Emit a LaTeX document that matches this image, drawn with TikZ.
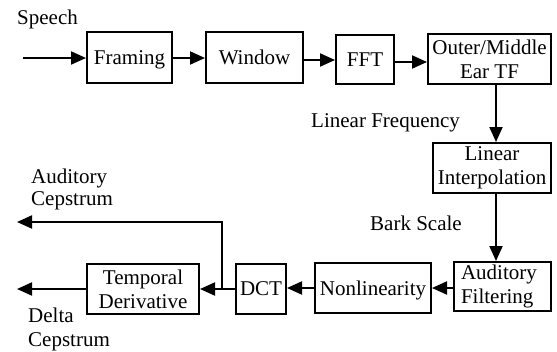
\documentclass[tikz,border=0pt]{standalone}
\usepackage{fontspec}
\setmainfont{Liberation Serif}
\usetikzlibrary{arrows.meta}
\begin{document}
\begin{tikzpicture}[x=1pt,y=-1pt,
  font=\fontsize{21}{24}\selectfont,
  blk/.style={draw,line width=2pt,inner sep=0pt,align=center},
  one/.style={text depth=0pt},
  lbl/.style={inner sep=0pt,anchor=base west},
  arr/.style={line width=2pt,-{Triangle[length=15pt,width=13pt]}}]
\useasboundingbox (0,0) rectangle (557,351);
% blocks
\node[blk,one,minimum width=85pt,minimum height=51pt] (framing) at (129.5,57.5) {Framing};
\node[blk,one,minimum width=97pt,minimum height=51pt] (window) at (254.5,57.5) {Window};
\node[blk,minimum width=58pt,minimum height=49pt] (fft) at (365,59.5) {\raisebox{-7pt}{FFT}};
\node[blk,minimum width=123pt,minimum height=50pt] (outer) at (489.5,59) {Outer/Middle\\Ear TF};
\node[blk,minimum width=118pt,minimum height=50pt] (interp) at (492,168) {Linear\\Interpolation};
\node[blk,minimum height=49pt,align=left,inner xsep=7pt,text width=83pt] (audf) at (502.5,286.5) {Auditory\\Filtering};
\node[blk,one,minimum width=116pt,minimum height=50pt] (nonlin) at (373,288) {Nonlinearity};
\node[blk,one,minimum width=50pt,minimum height=50pt] (dct) at (261,289) {DCT};
\node[blk,minimum width=112pt,minimum height=50pt] (temp) at (143,289) {Temporal\\Derivative};
% labels
\node[lbl] (speech) at (17,24) {Speech};
\node[lbl] (linfreq) at (311,127) {Linear Frequency};
\node[lbl] (bark) at (370,230) {Bark Scale};
\node[lbl] (ac1) at (31,183) {Auditory};
\node[lbl] (ac2) at (31,205) {Cepstrum};
\node[lbl] (dc1) at (28,322) {Delta};
\node[lbl] (dc2) at (28,346) {Cepstrum};
% coordinates
\coordinate (in) at (23,58);
\coordinate (br) at (222,289);
\coordinate (acend) at (17,222);
\coordinate (dcend) at (17,289);
% connectors
\draw[arr] (in) -- (framing.west |- in);
\draw[arr] (framing.east |- in) -- (window.west |- in);
\draw[arr] (window.east |- 0,60) -- (fft.west |- 0,60);
\draw[arr] (fft.east |- 0,62) -- (outer.west |- 0,62);
\draw[arr] ([xshift=4pt]interp.north |- outer.south) -- ([xshift=4pt]interp.north);
\draw[arr] ([xshift=4pt]interp.south) -- ([xshift=4pt]interp.south |- audf.north);
\draw[arr] (audf.west |- 0,288) -- (nonlin.east |- 0,288);
\draw[arr] (nonlin.west |- 0,288) -- (dct.east |- 0,288);
\draw[arr] (dct.west |- 0,289) -- (temp.east |- 0,289);
\draw[arr] (br) |- (acend);
\draw[arr] (temp.west |- 0,289) -- (dcend);
\end{tikzpicture}
\end{document}
